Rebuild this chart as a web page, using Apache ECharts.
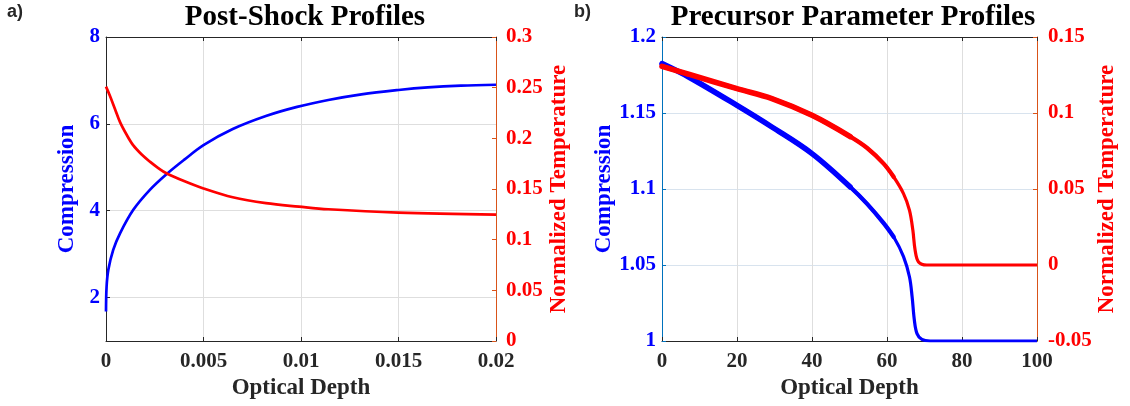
<!DOCTYPE html>
<html>
<head>
<meta charset="utf-8">
<script src="https://cdn.jsdelivr.net/npm/echarts@6/dist/echarts.min.js"></script>
<style>html,body{margin:0;padding:0;background:#fff}#c{width:1130px;height:406px}</style>
</head>
<body>
<div id="c"></div>
<script>
// ---- Panel a: Post-Shock Profiles ----
const aCompX = [0, 0.00003, 0.00012, 0.00037, 0.00072, 0.0014, 0.00225, 0.0031, 0.004, 0.005, 0.0065, 0.0082, 0.0098, 0.0114, 0.0131, 0.015, 0.0165, 0.0182, 0.02];
const aComp  = [1.68, 2.25, 2.64, 3.10, 3.48, 4.02, 4.48, 4.84, 5.17, 5.51, 5.88, 6.18, 6.39, 6.55, 6.68, 6.78, 6.84, 6.88, 6.90];
const aTempX = [0, 0.0002, 0.00046, 0.00072, 0.00106, 0.0014, 0.00183, 0.00225, 0.00268, 0.0031, 0.004, 0.005, 0.0065, 0.0082, 0.0099, 0.0114, 0.015, 0.02];
const aTemp  = [0.251, 0.242, 0.229, 0.216, 0.2035, 0.193, 0.184, 0.177, 0.1707, 0.1655, 0.1578, 0.1505, 0.1418, 0.136, 0.1326, 0.130, 0.1267, 0.1247];
const aLeftTicks = [2, 4, 6, 8];

// ---- Panel b: Precursor Parameter Profiles ----
const bCompX = [0, 7.1, 20, 29.3, 40, 50.2, 54.7, 59.1, 61.8, 64.4, 66.0, 66.7, 67.3, 68.0, 69.3, 71.5, 75, 80, 90, 100];
const bComp  = [1.1825, 1.1737, 1.155, 1.1408, 1.1233, 1.1013, 1.0902, 1.0775, 1.0684, 1.0555, 1.0421, 1.029, 1.0136, 1.0049, 1.001, 1.0, 1.0, 1.0, 1.0, 1.0];
const bTempX = [0, 7.1, 20, 29.3, 40, 50.2, 54.7, 59.1, 61.8, 64.4, 66.0, 66.9, 67.5, 68.4, 70.6, 74, 80, 90, 100];
const bTemp  = [0.1307, 0.1255, 0.116, 0.1095, 0.0985, 0.0845, 0.0770, 0.0667, 0.0579, 0.047, 0.036, 0.0228, 0.0097, 0.002, 0.0, 0.0, 0.0, 0.0, 0.0];
// the noisy early part of the precursor curves is drawn as a wider (tapering) band
const bBandEnds = [62, 51];

const titles = ['Post-Shock Profiles', 'Precursor Parameter Profiles'];
const xName = 'Optical Depth';
const leftName = 'Compression';
const rightName = 'Normalized Temperature';

const pairs = (xs, ys) => xs.map((x, i) => [x, ys[i]]);
const upTo = (p, lim) => p.filter(d => d[0] <= lim);
const SERIF = 'Liberation Serif';
const DARK = '#262626';
const BLUE = '#0000FF';
const RED = '#FF0000';
const RAXIS = '#D95319';

function xAxes(grid, min, max, interval, gridColor) {
  return [
    { type: 'value', gridIndex: grid, position: 'bottom', min, max, interval,
      name: xName, nameLocation: 'middle', nameGap: 36,
      nameTextStyle: { fontFamily: SERIF, fontWeight: 'bold', fontSize: 23, color: DARK },
      axisLine: { onZero: false, lineStyle: { color: DARK, width: 1 } },
      axisTick: { inside: true, length: 4, lineStyle: { color: DARK } },
      axisLabel: { fontFamily: SERIF, fontWeight: 'bold', fontSize: 21, color: DARK, margin: 10, showMinLabel: true, showMaxLabel: true },
      splitLine: { show: true, lineStyle: { color: gridColor, width: 1 } } },
    { type: 'value', gridIndex: grid, position: 'top', min, max, interval,
      axisLine: { onZero: false, lineStyle: { color: DARK, width: 1 } },
      axisTick: { inside: true, length: 4, lineStyle: { color: DARK } },
      axisLabel: { show: false }, splitLine: { show: false } }
  ];
}

const bComp2 = pairs(bCompX, bComp);
const bTemp2 = pairs(bTempX, bTemp);

function bandSeries(data, yIdx, color) {
  const out = [{ type: 'line', xAxisIndex: 2, yAxisIndex: yIdx, data, showSymbol: false,
    smooth: 0.35, lineStyle: { color, width: 3.2 } }];
  bBandEnds.forEach((lim, k) => out.push({ type: 'line', xAxisIndex: 2, yAxisIndex: yIdx,
    data: upTo(data, lim), showSymbol: false, smooth: 0.35,
    lineStyle: { color, width: 4.3 + k * 1.2, cap: 'round' } }));
  return out;
}

const option = {
  animation: false,
  backgroundColor: '#fff',
  title: [
    { text: titles[0], left: 300, top: -3, textAlign: 'center',
      textStyle: { fontFamily: SERIF, fontWeight: 'bold', fontSize: 29, color: '#000', lineHeight: 32 } },
    { text: titles[1], left: 848, top: -3, textAlign: 'center',
      textStyle: { fontFamily: SERIF, fontWeight: 'bold', fontSize: 29, color: '#000', lineHeight: 32 } }
  ],
  graphic: [
    { type: 'text', left: 7, top: 3, style: { text: 'a)', fontFamily: 'Liberation Sans', fontWeight: 'bold', fontSize: 18, fill: DARK } },
    { type: 'text', left: 574, top: 3, style: { text: 'b)', fontFamily: 'Liberation Sans', fontWeight: 'bold', fontSize: 18, fill: DARK } }
  ],
  grid: [
    { left: 106, right: 634, top: 37, bottom: 65, containLabel: false },
    { left: 662, right: 93, top: 37, bottom: 65, containLabel: false }
  ],
  xAxis: [
    ...xAxes(0, 0, 0.02, 0.005, '#dedede'),
    ...xAxes(1, 0, 100, 20, '#dedede')
  ],
  yAxis: [
    { type: 'value', gridIndex: 0, position: 'left', min: 1, max: 8,
      name: leftName, nameLocation: 'middle', nameGap: 27,
      nameTextStyle: { fontFamily: SERIF, fontWeight: 'bold', fontSize: 23, color: BLUE },
      axisLine: { show: true, onZero: false, lineStyle: { color: DARK } },
      axisTick: { show: true, inside: true, length: 4, customValues: aLeftTicks, lineStyle: { color: DARK } },
      axisLabel: { fontFamily: SERIF, fontWeight: 'bold', fontSize: 21, color: BLUE, margin: 6, customValues: aLeftTicks },
      splitLine: { show: true, lineStyle: { color: '#dedede' } } },
    { type: 'value', gridIndex: 0, position: 'right', min: 0, max: 0.3, interval: 0.05,
      name: rightName, nameLocation: 'middle', nameGap: 52, nameRotate: 90,
      nameTextStyle: { fontFamily: SERIF, fontWeight: 'bold', fontSize: 23, color: RED },
      axisLine: { show: true, onZero: false, lineStyle: { color: RAXIS } },
      axisTick: { show: true, inside: true, length: 4, lineStyle: { color: RAXIS } },
      axisLabel: { fontFamily: SERIF, fontWeight: 'bold', fontSize: 21, color: RED, margin: 10 },
      splitLine: { show: false } },
    { type: 'value', gridIndex: 1, position: 'left', min: 1, max: 1.2, interval: 0.05,
      name: leftName, nameLocation: 'middle', nameGap: 27,
      nameTextStyle: { fontFamily: SERIF, fontWeight: 'bold', fontSize: 23, color: BLUE },
      axisLine: { show: true, onZero: false, lineStyle: { color: '#0072BD' } },
      axisTick: { show: true, inside: true, length: 4, lineStyle: { color: '#0072BD' } },
      axisLabel: { fontFamily: SERIF, fontWeight: 'bold', fontSize: 21, color: BLUE, margin: 6 },
      splitLine: { show: true, lineStyle: { color: '#d8e3ee' } } },
    { type: 'value', gridIndex: 1, position: 'right', min: -0.05, max: 0.15, interval: 0.05,
      name: rightName, nameLocation: 'middle', nameGap: 59, nameRotate: 90,
      nameTextStyle: { fontFamily: SERIF, fontWeight: 'bold', fontSize: 23, color: RED },
      axisLine: { show: true, onZero: false, lineStyle: { color: RAXIS } },
      axisTick: { show: true, inside: true, length: 4, lineStyle: { color: RAXIS } },
      axisLabel: { fontFamily: SERIF, fontWeight: 'bold', fontSize: 21, color: RED, margin: 11 },
      splitLine: { show: false } }
  ],
  series: [
    { type: 'line', xAxisIndex: 0, yAxisIndex: 0, data: pairs(aCompX, aComp), showSymbol: false,
      smooth: 0.35, lineStyle: { color: BLUE, width: 2.7 } },
    { type: 'line', xAxisIndex: 0, yAxisIndex: 1, data: pairs(aTempX, aTemp), showSymbol: false,
      smooth: 0.35, lineStyle: { color: RED, width: 2.7 } },
    ...bandSeries(bComp2, 2, BLUE),
    ...bandSeries(bTemp2, 3, RED)
  ]
};

const chart = echarts.init(document.getElementById('c'), null, { renderer: 'canvas' });
chart.setOption(option);
</script>
</body>
</html>
